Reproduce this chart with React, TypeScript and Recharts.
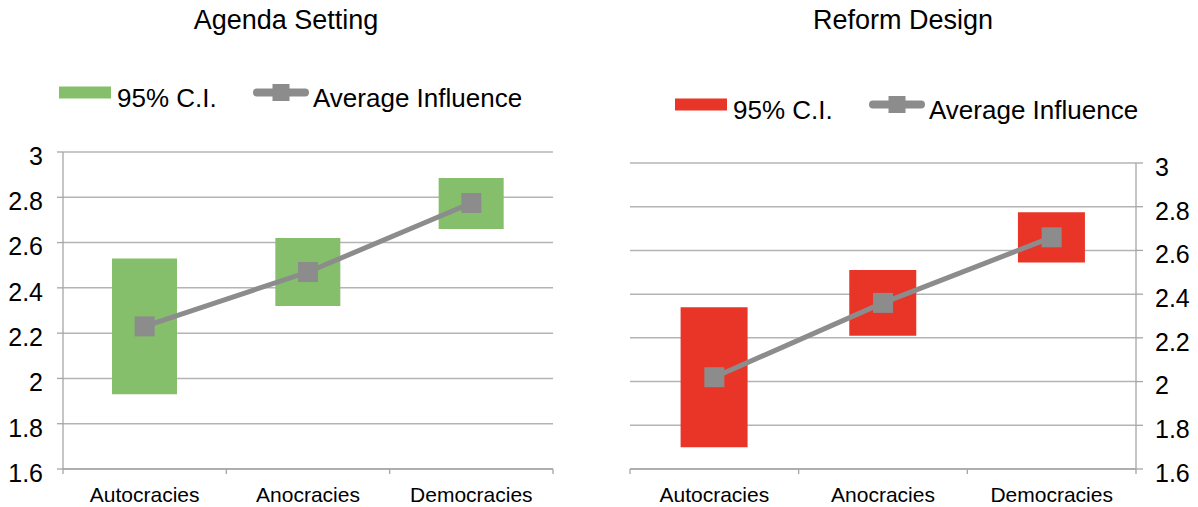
import React from 'react';
import { ComposedChart, Bar, Line, XAxis, YAxis, CartesianGrid, Legend } from 'recharts';

const categories = ['Autocracies', 'Anocracies', 'Democracies'];
const yTicks = [1.6, 1.8, 2, 2.2, 2.4, 2.6, 2.8, 3];

const agendaLow = [1.93, 2.32, 2.66];
const agendaHigh = [2.53, 2.62, 2.885];
const agendaAvg = [2.23, 2.47, 2.775];

const reformLow = [1.7, 2.21, 2.545];
const reformHigh = [2.34, 2.51, 2.775];
const reformAvg = [2.02, 2.36, 2.66];

const titles = ['Agenda Setting', 'Reform Design'];
const legendLabels = ['95% C.I.', 'Average Influence'];

const GREEN = '#86BF6B';
const RED = '#E83527';
const LINE = '#8C8C8C';
const GRID = '#B4B4B4';
const AXIS = '#A6A6A6';
const FONT = '"Liberation Sans", Arial, sans-serif';

const build = (low: number[], high: number[], avg: number[]) =>
  categories.map((c, i) => ({ name: c, ci: [low[i], high[i]], avg: avg[i] }));

const agendaData = build(agendaLow, agendaHigh, agendaAvg);
const reformData = build(reformLow, reformHigh, reformAvg);

const SquareDot = (props: any) => {
  const { cx, cy } = props;
  if (cx == null || cy == null) return null;
  return <rect x={cx - 10} y={cy - 10} width={20} height={20} fill={LINE} />;
};

const makeXTick = (band: number) => (props: any) => {
  const { x, y, payload, index } = props;
  const off = payload && payload.offset ? payload.offset : band / 2;
  const axisY = y - 19;
  return (
    <g>
      <line x1={x - off} x2={x - off} y1={axisY} y2={axisY + 5} stroke={AXIS} strokeWidth={1.3} />
      {index === categories.length - 1 && (
        <line x1={x + off} x2={x + off} y1={axisY} y2={axisY + 5} stroke={AXIS} strokeWidth={1.3} />
      )}
      <text x={x} y={y + 7} dy="0.355em" textAnchor="middle" fontSize={21} fontFamily={FONT} fill="#000">
        {payload.value}
      </text>
    </g>
  );
};

const makeYTick = (anchor: 'start' | 'end') => (props: any) => {
  const { x, y, payload } = props;
  return (
    <text x={x} y={y + 4} dy="0.355em" textAnchor={anchor} fontSize={25} fontFamily={FONT} fill="#000">
      {String(payload.value)}
    </text>
  );
};

const makeLegend = (color: string, x0: number) => () => (
  <svg width={600} height={40} style={{ display: 'block', overflow: 'visible' }}>
    <rect x={x0} y={8.5} width={52} height={12} fill={color} />
    <text x={x0 + 58} y={29} fontSize={26} fontFamily={FONT} fill="#000">
      {legendLabels[0]}
    </text>
    <line x1={x0 + 198} x2={x0 + 246} y1={14.5} y2={14.5} stroke={LINE} strokeWidth={8} strokeLinecap="round" />
    <rect x={x0 + 213.5} y={6} width={17} height={17} fill={LINE} />
    <text x={x0 + 254} y={29} fontSize={26} fontFamily={FONT} fill="#000">
      {legendLabels[1]}
    </text>
  </svg>
);

const Panel = (p: {
  data: any[];
  color: string;
  width: number;
  margin: any;
  right: boolean;
  legendTop: number;
  legendX: number;
  band: number;
}) => (
  <ComposedChart width={p.width} height={507} data={p.data} margin={p.margin} barCategoryGap="30%">
    <CartesianGrid vertical={false} stroke={GRID} strokeWidth={1.5} />
    <XAxis
      dataKey="name"
      height={38}
      tickLine={false}
      tickSize={0}
      tickMargin={19}
      axisLine={{ stroke: AXIS, strokeWidth: 1.5 }}
      tick={makeXTick(p.band)}
      interval={0}
    />
    <YAxis
      orientation={p.right ? 'right' : 'left'}
      width={p.right ? 62 : 63}
      domain={[1.6, 3]}
      ticks={yTicks}
      allowDataOverflow
      tickSize={p.right ? 7 : 6}
      tickMargin={p.right ? 12 : 14}
      tickLine={{ stroke: AXIS, strokeWidth: 1.3 }}
      axisLine={{ stroke: AXIS, strokeWidth: 1.3 }}
      tick={makeYTick(p.right ? 'start' : 'end')}
      interval={0}
    />
    <Legend
      layout="horizontal"
      verticalAlign="middle"
      align="center"
      wrapperStyle={{ top: p.legendTop, left: 0, width: 600, height: 40 }}
      content={makeLegend(p.color, p.legendX)}
    />
    <Bar dataKey="ci" fill={p.color} isAnimationActive={false} name={legendLabels[0]} />
    <Line
      dataKey="avg"
      type="linear"
      stroke={LINE}
      strokeWidth={5}
      dot={<SquareDot />}
      activeDot={false}
      isAnimationActive={false}
      name={legendLabels[1]}
    />
  </ComposedChart>
);

const titleStyle = (cx: number): React.CSSProperties => ({
  position: 'absolute',
  left: cx - 150,
  width: 300,
  top: 4,
  textAlign: 'center',
  fontFamily: FONT,
  fontSize: 27,
  lineHeight: '32px',
  color: '#000',
});

export default function App() {
  return (
    <div style={{ position: 'absolute', left: 0, top: 0, width: 1198, height: 507, background: '#fff', overflow: 'hidden' }}>
      <div style={titleStyle(286)}>{titles[0]}</div>
      <div style={titleStyle(903)}>{titles[1]}</div>
      <div style={{ position: 'absolute', left: 0, top: 0 }}>
        <Panel
          data={agendaData}
          color={GREEN}
          width={600}
          margin={{ top: 152, right: 47, bottom: 0, left: 0 }}
          right={false}
          legendTop={78}
          legendX={59}
          band={163.3}
        />
      </div>
      <div style={{ position: 'absolute', left: 600, top: 0 }}>
        <Panel
          data={reformData}
          color={RED}
          width={598}
          margin={{ top: 163, right: 0, bottom: 0, left: 30 }}
          right={true}
          legendTop={90}
          legendX={75}
          band={168.6}
        />
      </div>
    </div>
  );
}
